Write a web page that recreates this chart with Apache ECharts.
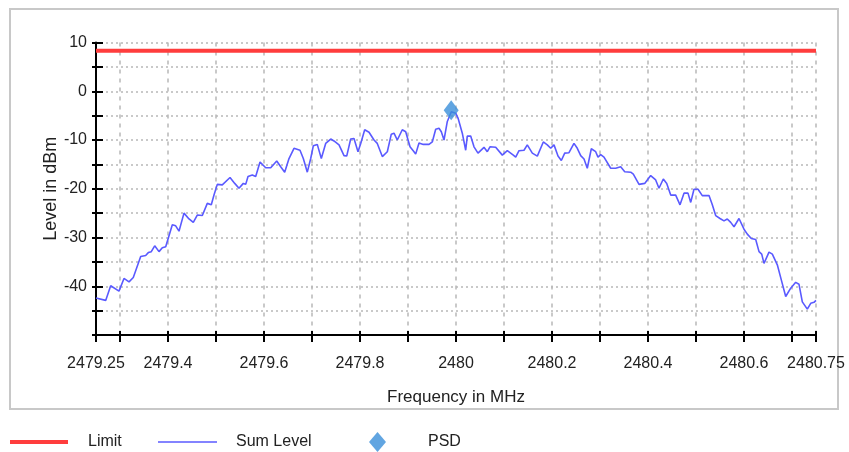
<!DOCTYPE html>
<html>
<head>
<meta charset="utf-8">
<script src="https://cdn.jsdelivr.net/npm/echarts@6/dist/echarts.min.js"></script>
<style>html,body{margin:0;padding:0;background:#fff}#c{width:849px;height:452px}</style>
</head>
<body>
<div id="c"></div>
<script>
// ---- data ----
const freq = [2479.25,2479.2527,2479.2702,2479.2806,2479.2979,2479.3083,2479.3188,2479.3277,2479.3431,2479.3535,2479.3590,2479.3652,2479.3723,2479.3813,2479.3881,2479.3952,
2479.4090,2479.4160,2479.4229,2479.4333,2479.4438,2479.4527,2479.4610,2479.4715,2479.4819,2479.4902,2479.4958,2479.5027,2479.5131,2479.5292,2479.5390,2479.5479,
2479.5569,2479.5619,2479.5667,2479.5756,2479.5827,2479.5917,2479.6035,2479.6140,2479.6265,2479.6348,2479.6431,2479.6521,2479.6625,2479.6750,2479.6819,2479.6902,
2479.6973,2479.7027,2479.7110,2479.7194,2479.7285,2479.7390,2479.7458,2479.7563,2479.7667,2479.7723,2479.7806,2479.7875,2479.7958,2479.8015,2479.8098,2479.8188,
2479.8292,2479.8360,2479.8465,2479.8569,2479.8652,2479.8708,2479.8777,2479.8881,2479.8952,2479.9042,2479.9125,2479.9160,2479.9229,2479.9319,2479.9438,2479.9506,
2479.9577,2479.9646,2479.9694,2479.9750,2479.9819,2479.9902,2479.9994,2480.0042,2480.0131,2480.0202,2480.0235,2480.0306,2480.0375,2480.0458,2480.0583,2480.0652,
2480.0708,2480.0827,2480.0965,2480.1069,2480.1194,2480.1244,2480.1313,2480.1417,2480.1485,2480.1590,2480.1694,2480.1819,2480.1902,2480.1973,2480.2042,2480.2125,
2480.2194,2480.2265,2480.2354,2480.2458,2480.2527,2480.2598,2480.2667,2480.2735,2480.2819,2480.2910,2480.2958,2480.3015,2480.3083,2480.3223,2480.3327,2480.3431,
2480.3515,2480.3640,2480.3694,2480.3813,2480.3931,2480.4056,2480.4160,2480.4229,2480.4319,2480.4390,2480.4473,2480.4577,2480.4667,2480.4750,2480.4833,2480.4890,
2480.4958,2480.5042,2480.5131,2480.5271,2480.5340,2480.5410,2480.5500,2480.5583,2480.5652,2480.5723,2480.5792,2480.5896,2480.6000,2480.6069,2480.6152,2480.6244,
2480.6313,2480.6369,2480.6417,2480.6521,2480.6590,2480.6694,2480.6777,2480.6869,2480.6973,2480.7077,2480.7146,2480.7215,2480.7319,2480.7390,2480.7458,2480.75];
const sumLevel = [-42.4,-42.6,-42.9,-39.9,-41.0,-38.4,-39.1,-38.2,-33.9,-33.7,-33.1,-32.9,-31.7,-32.9,-32.1,-31.9,
-27.4,-27.6,-28.7,-25.0,-26.2,-26.9,-25.4,-25.5,-23.0,-23.3,-21.3,-19.1,-19.2,-17.7,-18.9,-19.9,
-18.9,-19.1,-17.5,-17.2,-17.5,-14.5,-15.7,-15.7,-14.3,-15.5,-16.6,-13.8,-11.7,-12.1,-13.8,-16.6,
-13.8,-11.2,-10.9,-13.8,-10.7,-9.8,-10.2,-11.0,-13.2,-13.3,-9.8,-9.7,-12.4,-10.7,-7.9,-8.4,
-10.0,-10.7,-13.4,-12.4,-8.8,-8.6,-10.0,-7.9,-8.3,-11.4,-12.4,-12.9,-10.6,-10.9,-10.9,-10.4,
-7.8,-7.6,-8.3,-10.0,-6.2,-4.2,-4.5,-5.5,-8.6,-12.1,-9.2,-9.2,-11.4,-12.7,-11.5,-12.4,
-11.4,-11.5,-13.1,-12.2,-13.1,-13.5,-12.2,-12.1,-11.0,-12.7,-13.3,-10.4,-11.0,-11.7,-11.0,-13.3,
-14.2,-12.7,-12.6,-10.7,-11.7,-13.2,-13.9,-15.8,-11.8,-12.4,-13.5,-13.0,-13.5,-15.8,-15.8,-15.5,
-16.5,-16.6,-17.0,-19.1,-18.9,-17.3,-18.2,-19.9,-18.0,-18.9,-21.3,-21.3,-23.3,-20.9,-20.9,-22.8,
-20.1,-20.1,-21.4,-21.4,-23.3,-25.5,-26.1,-26.6,-26.2,-26.9,-27.8,-26.1,-28.3,-29.3,-30.2,-30.4,
-32.9,-33.4,-35.3,-33.0,-33.4,-35.6,-38.7,-42.1,-40.4,-39.2,-39.6,-43.2,-44.7,-43.5,-43.3,-42.9];
const limitFreq = [2479.25, 2480.75];
const limitLevel = [8.3, 8.3];
const psdFreq = [2479.99];
const psdLevel = [-3.9];
const xTickValues = [2479.25,2479.3,2479.4,2479.5,2479.6,2479.7,2479.8,2479.9,2480,2480.1,2480.2,2480.3,2480.4,2480.5,2480.6,2480.7,2480.75];
const xLabelValues = [2479.25,2479.4,2479.6,2479.8,2480,2480.2,2480.4,2480.6,2480.75];
const xLabelText = ['2479.25','2479.4','2479.6','2479.8','2480','2480.2','2480.4','2480.6','2480.75'];
const yLabelValues = [10,0,-10,-20,-30,-40];
const yLabelText = ['10','0','-10','-20','-30','-40'];

const FONT = "'Liberation Sans',Arial,sans-serif";
const pairs = (xs, ys) => xs.map((x, i) => [x, ys[i]]);
const fmt = (vals, txt) => v => { const i = vals.findIndex(c => Math.abs(c - v) < 1e-6); return i < 0 ? '' : txt[i]; };
const gridBox = {left: 96, right: 33, top: 42.5, bottom: 117};

const chart = echarts.init(document.getElementById('c'), null, {renderer: 'canvas'});
chart.setOption({
  animation: false,
  backgroundColor: '#fff',
  graphic: [{type: 'rect', z: -10, shape: {x: 10, y: 9, width: 828, height: 400},
             style: {fill: '#fff', stroke: '#c8c8c8', lineWidth: 2}}],
  grid: [Object.assign({}, gridBox), Object.assign({}, gridBox)],
  xAxis: [{
    type: 'value', gridIndex: 0, min: 2479.25, max: 2480.75,
    name: 'Frequency in MHz', nameLocation: 'middle', nameGap: 54, nameMoveOverlap: false,
    nameTextStyle: {fontFamily: FONT, fontSize: 17, color: '#222'},
    axisLine: {onZero: false, lineStyle: {color: '#000', width: 2}},
    axisTick: {customValues: xTickValues, length: 7, lineStyle: {color: '#000', width: 2}},
    axisLabel: {customValues: xLabelValues, formatter: fmt(xLabelValues, xLabelText), margin: 21,
                fontFamily: FONT, fontSize: 16, color: '#222'},
    splitLine: {show: true, lineStyle: {color: '#b8b8b8', width: 1.5, type: [4, 5]}}
  }, {
    type: 'value', gridIndex: 1, min: 2479.25, max: 2480.75,
    axisLine: {show: false, onZero: false},
    axisTick: {customValues: xTickValues, inside: true, length: 4, lineStyle: {color: '#000', width: 2}},
    axisLabel: {show: false}, splitLine: {show: false}
  }],
  yAxis: [{
    type: 'value', gridIndex: 0, min: -50, max: 10, interval: 5,
    name: 'Level in dBm', nameLocation: 'middle', nameGap: 36, nameMoveOverlap: false,
    nameTextStyle: {fontFamily: FONT, fontSize: 18, color: '#222'},
    axisLine: {show: true, onZero: false, lineStyle: {color: '#000', width: 2}},
    axisTick: {show: true, length: 4, lineStyle: {color: '#000', width: 2}},
    axisLabel: {customValues: yLabelValues, formatter: fmt(yLabelValues, yLabelText), margin: 9,
                fontFamily: FONT, fontSize: 16, color: '#222'},
    splitLine: {show: true, lineStyle: {color: '#b8b8b8', width: 1.5, type: [2, 3]}}
  }, {
    type: 'value', gridIndex: 1, min: -50, max: 10, interval: 5,
    axisLine: {show: false, onZero: false},
    axisTick: {show: true, inside: true, length: 7, lineStyle: {color: '#000', width: 2}},
    axisLabel: {show: false}, splitLine: {show: false}
  }],
  legend: [
    {left: 10, top: 434, padding: 0, data: ['Limit'], icon: 'rect', itemWidth: 58, itemHeight: 4,
     textStyle: {fontFamily: FONT, fontSize: 16, color: '#222', padding: [0, 0, 0, 15]}},
    {left: 158, top: 434, padding: 0, data: ['Sum Level'], icon: 'rect', itemWidth: 59, itemHeight: 1.5,
     textStyle: {fontFamily: FONT, fontSize: 16, color: '#222', padding: [0, 0, 0, 14]}},
    {left: 369, top: 432, padding: 0, data: ['PSD'], icon: 'diamond', itemWidth: 17, itemHeight: 20,
     textStyle: {fontFamily: FONT, fontSize: 16, color: '#222', padding: [0, 0, 0, 37]}}
  ],
  series: [
    {name: 'Limit', type: 'line', xAxisIndex: 0, yAxisIndex: 0, data: pairs(limitFreq, limitLevel),
     symbol: 'none', color: '#ff3d3d', lineStyle: {color: '#ff3d3d', width: 4}, itemStyle: {color: '#ff3d3d'}, z: 3},
    {name: 'Sum Level', type: 'line', xAxisIndex: 0, yAxisIndex: 0, data: pairs(freq, sumLevel),
     symbol: 'none', color: '#5a5aff', lineStyle: {color: '#5a5aff', width: 1.6}, itemStyle: {color: '#5a5aff'}, z: 4},
    {name: 'PSD', type: 'scatter', xAxisIndex: 0, yAxisIndex: 0, data: pairs(psdFreq, psdLevel),
     symbol: 'diamond', symbolSize: [15, 20], itemStyle: {color: '#3a8fd9'}, z: 5}
  ]
});
</script>
</body>
</html>
